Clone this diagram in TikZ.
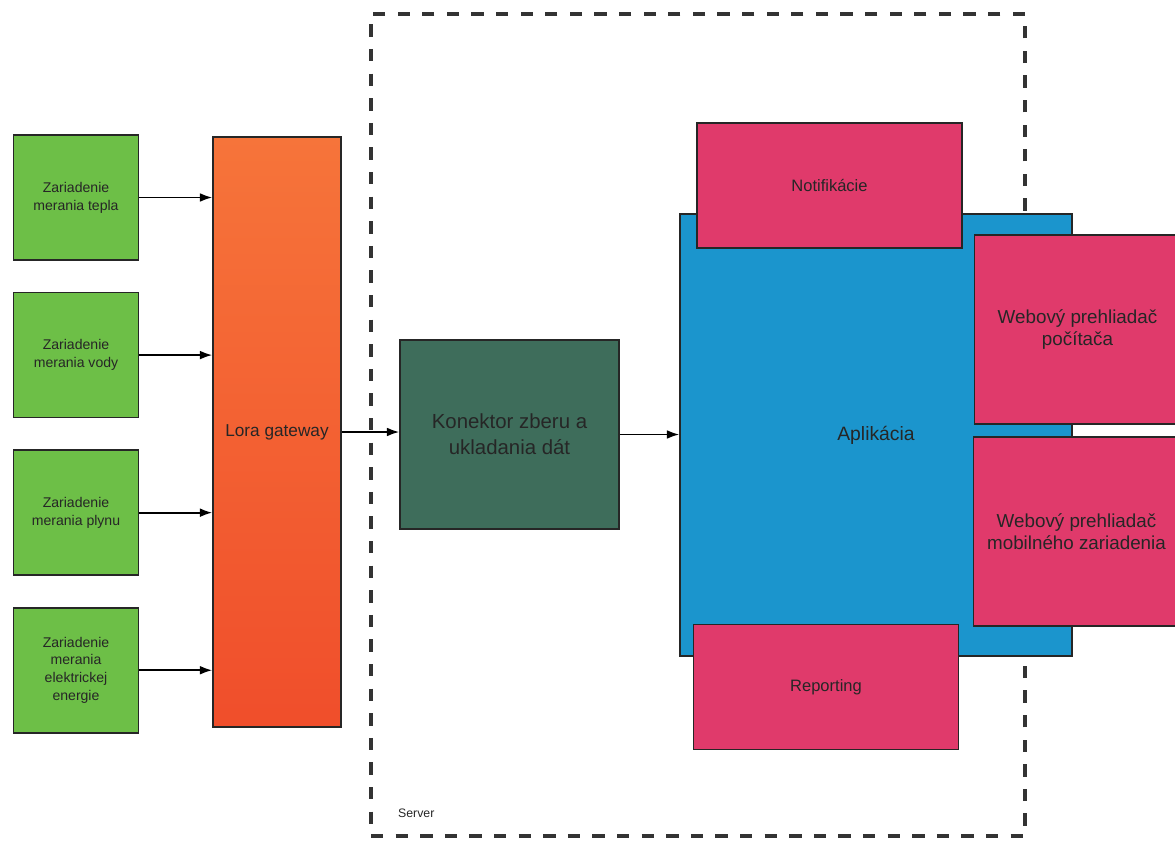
\documentclass[tikz,border=0pt]{standalone}
\usepackage{fontspec}
\setmainfont{Liberation Sans}
\usepackage{xcolor}
\usepackage{tikz}
\usetikzlibrary{positioning, arrows.meta}

\definecolor{devgreen}{HTML}{6DBF47}
\definecolor{loratop}{HTML}{F6743A}
\definecolor{lorabottom}{HTML}{F04E2B}
\definecolor{connteal}{HTML}{3E6D5B}
\definecolor{appblue}{HTML}{1B95CD}
\definecolor{modpink}{HTML}{E03A6B}
\definecolor{txtgray}{HTML}{262626}

\begin{document}
\begin{tikzpicture}[-,auto,node distance=0.62cm,>={Latex[length=7pt,width=5pt]},
                    box node/.style={rectangle,draw=black!85,line width=0.9pt,text=txtgray,align=center,inner sep=2pt},
                    dev node/.style={box node,fill=devgreen,minimum width=2.5cm,minimum height=2.5cm,font=\fontsize{8}{10.2}\selectfont},
                    gateway node/.style={box node,top color=loratop,bottom color=lorabottom,minimum width=2.56cm,minimum height=11.8cm,font=\fontsize{9.8}{12}\selectfont},
                    conn node/.style={box node,fill=connteal,minimum width=4.38cm,minimum height=3.78cm,font=\fontsize{11.6}{14.7}\selectfont},
                    app node/.style={box node,fill=appblue,minimum width=7.84cm,minimum height=8.84cm,font=\fontsize{11}{13}\selectfont},
                    module node/.style={box node,fill=modpink,minimum width=5.3cm,minimum height=2.5cm,font=\fontsize{9.4}{11}\selectfont},
                    web node/.style={box node,fill=modpink,minimum width=4.12cm,minimum height=3.78cm,font=\fontsize{10.7}{12.4}\selectfont},
                    server node/.style={rectangle,draw=black!80,line width=1.8pt,dash pattern=on 7pt off 7pt,minimum width=13.08cm,minimum height=16.44cm}]

  \useasboundingbox (0,0) rectangle (23.5,-16.94);

  % server frame
  \node[server node] (server) at (13.96,-8.5) {};
  \node[anchor=base west,font=\fontsize{7}{8}\selectfont,text=txtgray] (serverlabel) [shift={(0.45,0.4)}] at (server.south west) {Server};

  % measuring devices
  \node[dev node] (tepla) at (1.52,-3.95) {Zariadenie\\merania tepla};
  \node[dev node] (vody) [below=of tepla] {Zariadenie\\merania vody};
  \node[dev node] (plynu) [below=of vody] {Zariadenie\\merania plynu};
  \node[dev node] (energia) [below=of plynu] {Zariadenie\\merania\\elektrickej\\energie};

  \node[gateway node] (lora) at (5.54,-8.64) {Lora gateway};

  \path[line width=1pt,->]
  (tepla.east) edge (tepla.east -| lora.west)
  (vody.east) edge (vody.east -| lora.west)
  (plynu.east) edge (plynu.east -| lora.west)
  (energia.east) edge (energia.east -| lora.west);

  \node[conn node] (konektor) at (10.19,-8.69) {Konektor zberu a\\ukladania dát};

  \node[app node] (aplikacia) at (17.52,-8.7) {Aplikácia};
  \node[module node] (notifikacie) at (16.59,-3.71) {Notifikácie};
  \node[module node] (reporting) at (16.52,-13.74) {Reporting};
  \node[web node] (pocitac) at (21.55,-6.59) {Webový prehliadač\\počítača};
  \node[web node] (mobil) at (21.53,-10.63) {Webový prehliadač\\mobilného zariadenia};

  \path[line width=1pt,->]
  (lora.east) edge (lora.east -| konektor.west)
  (konektor.east) edge (konektor.east -| aplikacia.west);

\end{tikzpicture}
\end{document}
